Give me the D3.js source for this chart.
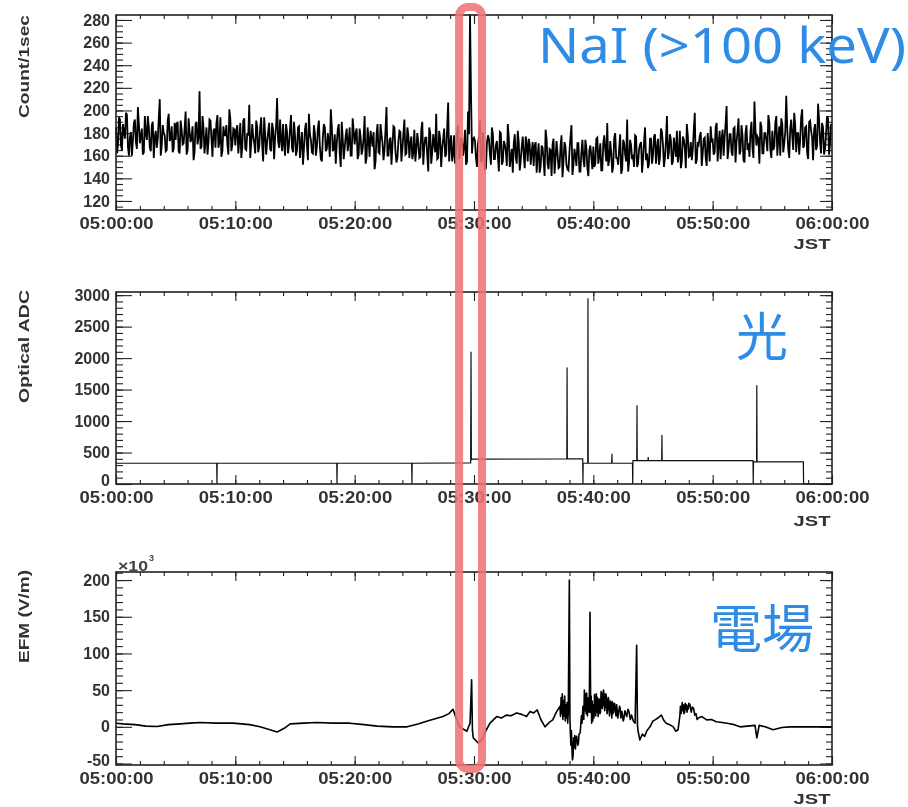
<!DOCTYPE html>
<html><head><meta charset="utf-8">
<script src="https://cdn.jsdelivr.net/npm/d3@7"></script>
<style>body{margin:0;background:#fff}</style>
</head><body><svg id="chart" width="908" height="807"></svg>
<script>
// ---------------- DATA ----------------
const timeTickMinutes = [0, 10, 20, 30, 40, 50, 60];
const timeTickLabels = ["05:00:00","05:10:00","05:20:00","05:30:00","05:40:00","05:50:00","06:00:00"];
const naiTicks = [120, 140, 160, 180, 200, 220, 240, 260, 280];
const opticalTicks = [0, 500, 1000, 1500, 2000, 2500, 3000];
const efmTicks = [-50, 0, 50, 100, 150, 200];

// NaI counts per second, read every 10 s (at hh:mm:s0) from 05:00:00
const naiCountsA = [
185,170,192,165,181,198,168,176,160,189,172,203,171,184,163,179,195,167,187,158,182,175,210,169,180,164,191,173,186,166,
174,190,162,183,171,199,165,181,176,156,188,170,217,168,185,173,161,192,175,182,167,196,172,159,186,178,170,201,164,184,
169,187,174,158,191,166,180,205,171,177,162,185,168,194,155,179,172,189,164,183,176,211,167,174,188,160,181,170,196,163,
178,165,186,171,152,183,169,197,174,162,180,168,191,157,176,185,166,173,201,164,179,171,188,150,175,167,184,172,160,193,
170,184,161,177,166,195,158,174,182,168,148,179,163,188,171,165,203,160,176,169,185,154,173,181,166,192,162,178,171,157,
183,165,172,159,190,168,176,146,180,163,171,197,158,175,166,184,161,207,170,155,178,164,187,160,173,168,152,199,285,162,
176,158,170,191,155,167,149,178,162,185,157,169,160,181,152,173,164,188,150,166,171,159,182,147,168,161,177,155,170,163,
151,172,160,145,169,156,183,153,166,142,175,158,162,150,178,155,168,148,164,187,152,160,171,146,163,157,174,149,165,159,
168,153,176,160,147,171,165,189,156,163,151,180,158,167,144,174,161,192,155,169,159,178,150,166,172,157,185,162,153,175,
160,179,166,152,184,170,158,195,163,174,155,168,182,161,149,177,167,188,159,172,165,198,156,170,181,162,176,151,169,186,
174,163,189,170,157,183,176,204,166,179,160,185,172,193,164,178,154,187,171,181,167,208,169,175,190,162,180,173,196,165,
182,168,195,175,160,188,171,213,166,184,178,198,163,180,174,201,169,186,157,191,176,183,165,206,172,189,161,179,193,170
];
// NaI counts per second, read every 10 s (at hh:mm:s5) from 05:00:05
const naiCountsB = [
162,194,169,188,175,196,160,181,173,192,166,188,177,161,195,174,185,164,190,176,167,193,160,187,178,165,197,175,163,189,
188,164,191,170,184,161,193,172,186,163,190,176,166,195,162,185,172,191,159,184,189,167,194,164,178,187,161,192,170,183,
183,162,189,168,193,165,178,158,188,171,191,163,185,169,194,161,181,166,189,157,186,173,192,164,170,188,162,184,167,190,
160,185,158,181,166,189,156,179,163,187,160,184,168,155,188,164,180,159,186,166,153,183,162,190,157,178,164,185,160,182,
180,157,184,161,176,153,185,159,175,181,155,188,162,179,156,183,160,174,152,186,164,158,182,155,179,161,185,158,177,163,
155,180,158,183,152,176,160,185,153,179,163,157,182,150,175,159,184,155,178,161,153,181,157,176,160,183,155,179,215,175,
173,150,177,155,181,147,171,175,152,179,157,173,146,180,155,170,151,176,158,145,179,153,172,156,177,149,170,175,152,172,
169,145,171,150,167,142,175,148,165,170,144,173,149,168,141,172,152,147,176,143,166,151,171,146,174,150,167,142,169,148,
150,175,153,171,147,178,155,151,173,145,176,158,152,179,148,171,155,146,174,157,150,177,153,170,145,172,156,149,175,153,
177,153,175,158,181,150,173,157,179,152,176,159,154,182,155,174,149,178,160,156,183,153,172,177,151,175,158,180,155,173,
161,185,155,182,175,160,188,157,179,163,184,154,181,161,187,156,180,165,159,190,158,183,177,153,186,162,180,164,189,158,
165,189,160,186,193,163,181,184,158,192,165,187,180,161,194,167,185,163,190,182,156,188,169,192,162,185,166,195,161,188
];
const naiStepMinutes = 10 / 60;

// Optical ADC: [minutes after 05:00, ADC]
const opticalSamples = [
  [0,330],[8.44,330],[8.46,0],[8.48,330],[18.5,330],[18.52,0],[18.54,330],[24.78,330],[24.8,0],[24.82,330],
  [29.72,335],[29.75,2100],[29.78,380],[29.8,395],[37.78,400],[37.8,1850],[37.82,400],[39.11,400],[39.13,0],[39.15,330],
  [39.53,330],[39.55,2950],[39.57,330],[41.54,330],[41.56,480],[41.58,330],[43.28,330],[43.3,0],[43.32,370],
  [43.64,370],[43.66,1250],[43.68,370],[44.58,370],[44.6,430],[44.62,370],[45.73,370],[45.75,780],[45.77,370],
  [53.38,370],[53.4,0],[53.42,350],[53.68,350],[53.7,1570],[53.72,350],[57.6,350],[57.62,0],[60,0]
];

// EFM (x10^3 V/m): [minutes after 05:00, value]
const efmSamples = [
  [0,5],[0.6,4],[1.6,3],[2.5,1],[3.44,0.5],[4.4,3],[5.36,4],[6.2,5],[7.04,6],[8.4,5],[9.8,5],[10.5,4],[11.2,3],
  [12.07,0],[12.9,-4],[13.5,-7],[14.1,-2],[14.6,4],[15.7,5],[16.8,6],[18.2,5],[19.6,5],[20.8,3],[21.9,1],[23.2,0],
  [24.4,0],[25.3,4],[26.1,8],[27.4,14],[27.9,18],[28.24,24],[28.5,12],[28.8,0],[29.4,-6],[29.67,5],[29.8,64],
  [29.87,-5],[29.94,-15],[30.36,-22],[30.64,-18],[31.0,-5],[31.34,5],[31.9,14],[32.3,12],[32.7,16],[33.1,15],
  [33.57,19],[34.0,17],[34.4,14],[34.7,21],[35.0,19],[35.3,23],[35.6,10],[35.95,0],[36.3,6],[36.6,9.5],[36.9,20],
  [37.2,28],[37.25,14],[37.3,40],[37.35,18],[37.4,45],[37.45,10],[37.5,35],[37.55,15],[37.6,42],[37.65,8],[37.7,30],
  [37.75,12],[37.8,33],[37.85,5],[37.9,19],[37.99,200],[38.04,10],[38.08,-10],[38.12,-25],[38.16,-5],[38.19,-18],
  [38.22,-35],[38.25,-45],[38.3,-40],[38.35,-15],[38.4,-28],[38.45,-12],[38.5,-30],[38.55,-18],[38.6,-13],[38.7,-25],
  [38.75,-22],[38.8,-10],[38.9,-8],[39.0,15],[39.05,5],[39.13,28],[39.2,10],[39.25,50],[39.3,22],[39.35,45],[39.4,18],
  [39.44,46],[39.5,15],[39.55,25],[39.6,40],[39.66,20],[39.72,156],[39.78,20],[39.82,42],[39.86,5],[39.9,35],[39.95,8],
  [40.0,30],[40.05,12],[40.1,44],[40.13,37],[40.2,15],[40.25,45],[40.3,20],[40.35,40],[40.4,14],[40.45,35],[40.5,38],
  [40.55,18],[40.6,20],[40.65,48],[40.7,46],[40.75,25],[40.8,30],[40.85,50],[40.9,44],[40.95,22],[41.0,28],[41.05,45],
  [41.1,39],[41.15,18],[41.2,24],[41.25,40],[41.3,36],[41.35,15],[41.4,22],[41.45,35],[41.5,28],[41.55,12],[41.6,34],
  [41.65,18],[41.7,20],[41.75,32],[41.8,31],[41.9,15],[41.96,30],[42.05,12],[42.1,18],[42.2,28],[42.25,26],[42.3,12],
  [42.4,21],[42.5,8],[42.55,10],[42.65,22],[42.7,19],[42.8,14],[42.9,24],[43.0,20],[43.1,10],[43.2,16],[43.35,8],
  [43.5,5],[43.63,111],[43.7,2],[43.74,-5],[43.9,-18],[44.1,-10],[44.3,-13],[44.5,-5],[44.75,0],[45.0,8],[45.17,9.5],
  [45.4,12],[45.7,16],[45.9,9],[46.1,5],[46.4,3],[46.7,0],[46.9,-6],[47.1,-4],[47.25,15],[47.3,28],[47.35,18],
  [47.4,23],[47.45,33],[47.5,22],[47.55,30],[47.6,18],[47.65,20],[47.7,32],[47.75,24],[47.8,30],[47.85,20],[47.9,28],
  [47.95,24],[48.0,32],[48.1,30],[48.2,20],[48.3,27],[48.4,25],[48.5,16],[48.6,18],[48.7,10],[48.8,12],[49.1,14],
  [49.5,9.5],[49.9,10],[50.3,7],[50.8,6],[51.2,5],[51.8,3],[52.3,0],[52.9,1],[53.55,2],[53.7,-15],[53.9,2],[54.4,0],
  [55.06,-4],[55.8,-1],[56.5,0],[57.2,0],[57.9,0],[59,0],[60,0]
];

const highlightMinutes = [28.75, 30.67];
const panelTitles = ["Count/1sec", "Optical ADC", "EFM (V/m)"];
const panelLabels = ["NaI (>100 keV)", "光", "電場"];

// ---------------- LAYOUT ----------------
const svg = d3.select("#chart");
const defs = svg.append("defs");
defs.append("filter").attr("id", "soft").append("feGaussianBlur").attr("stdDeviation", 0.5);
const root = svg.append("g").attr("filter", "url(#soft)");

const X0 = 116, X1 = 832;
const x = d3.scaleLinear().domain([0, 60]).range([X0, X1]);

const panels = [
  {top: 15, bottom: 210, domain: [112, 284.4], ticks: naiTicks, minorStep: 5, titleLen: 103, jstY: 243},
  {top: 292, bottom: 484, domain: [0, 3050], ticks: opticalTicks, minorStep: 100, titleLen: 113, jstY: 520},
  {top: 572, bottom: 765, domain: [-52, 211], ticks: efmTicks, minorStep: 10, titleLen: 93, jstY: 798}
];
const ink = "#222";
const tickFont = "'Liberation Sans', Arial, sans-serif";

function styleAxis(g) {
  g.select(".domain").remove();
  g.selectAll(".tick line").attr("stroke", ink).attr("stroke-width", 1.1);
  g.selectAll("text").attr("font-family", tickFont).attr("font-weight", "bold").attr("fill", "#333");
}

panels.forEach((p, i) => {
  const y = d3.scaleLinear().domain(p.domain).range([p.bottom, p.top]);
  p.y = y;
  const g = root.append("g");
  const minor = d3.range(Math.ceil(p.domain[0] / p.minorStep) * p.minorStep, p.domain[1], p.minorStep);
  const timeMinor = d3.range(0, 61, 2);

  g.append("g").attr("transform", `translate(${X0},0)`)
    .call(d3.axisLeft(y).tickValues(minor).tickSize(-7).tickFormat("")).call(styleAxis);
  g.append("g").attr("transform", `translate(${X0},0)`)
    .call(d3.axisLeft(y).tickValues(p.ticks).tickSizeInner(-16).tickSizeOuter(0).tickPadding(6)
      .tickFormat(d => String(d))).call(styleAxis)
    .selectAll("text").attr("font-size", 16)
    .attr("dy", d => (Math.abs(y(d) - p.bottom) < 3 ? "0.12em" : "0.32em"));
  g.append("g").attr("transform", `translate(${X1},0)`)
    .call(d3.axisRight(y).tickValues(minor).tickSize(-6).tickFormat("")).call(styleAxis);
  g.append("g").attr("transform", `translate(${X1},0)`)
    .call(d3.axisRight(y).tickValues(p.ticks).tickSize(-12).tickFormat("")).call(styleAxis);
  g.append("g").attr("transform", `translate(0,${p.bottom})`)
    .call(d3.axisBottom(x).tickValues(timeMinor).tickSize(-4).tickFormat("")).call(styleAxis);
  g.append("g").attr("transform", `translate(0,${p.bottom})`)
    .call(d3.axisBottom(x).tickValues(timeTickMinutes).tickSizeInner(-9).tickSizeOuter(0).tickPadding(8)
      .tickFormat((d, k) => timeTickLabels[k])).call(styleAxis)
    .selectAll("text").attr("font-size", 16).attr("textLength", 74).attr("lengthAdjust", "spacingAndGlyphs");
  g.append("g").attr("transform", `translate(0,${p.top})`)
    .call(d3.axisTop(x).tickValues(timeMinor).tickSize(-4).tickFormat("")).call(styleAxis);
  g.append("g").attr("transform", `translate(0,${p.top})`)
    .call(d3.axisTop(x).tickValues(timeTickMinutes).tickSize(-9).tickFormat("")).call(styleAxis);

  g.append("text").attr("x", 812).attr("y", p.jstY).attr("text-anchor", "middle")
    .attr("dominant-baseline", "central").attr("font-family", tickFont).attr("font-weight", "bold")
    .attr("font-size", 15).attr("fill", "#333").attr("textLength", 37).attr("lengthAdjust", "spacingAndGlyphs")
    .text("JST");

  const cy = (p.top + p.top + p.titleLen) / 2 + (i === 0 ? 0 : -2);
  g.append("text").attr("transform", `translate(23,${cy}) rotate(-90)`)
    .attr("text-anchor", "middle").attr("dominant-baseline", "central")
    .attr("font-family", tickFont).attr("font-weight", "bold").attr("font-size", 15).attr("fill", "#333")
    .attr("textLength", p.titleLen).attr("lengthAdjust", "spacingAndGlyphs")
    .text(panelTitles[i]);
});

// ---- data lines ----
const pN = panels[0];
const naiSeries = [];
naiCountsA.forEach((v, k) => {
  naiSeries.push([k * naiStepMinutes, v]);
  naiSeries.push([(k + 0.5) * naiStepMinutes, naiCountsB[k]]);
});
root.append("path")
  .datum(naiSeries)
  .attr("fill", "none").attr("stroke", "#000").attr("stroke-width", 1.8)
  .attr("d", d3.line().x(d => x(d[0])).y(d => pN.y(d[1])));

const pO = panels[1];
root.append("path")
  .datum(opticalSamples)
  .attr("fill", "none").attr("stroke", "#111").attr("stroke-width", 1.2)
  .attr("d", d3.line().x(d => x(d[0])).y(d => pO.y(d[1])));

const pE = panels[2];
root.append("path")
  .datum(efmSamples)
  .attr("fill", "none").attr("stroke", "#000").attr("stroke-width", 1.6).attr("stroke-linejoin", "round")
  .attr("d", d3.line().x(d => x(d[0])).y(d => pE.y(d[1])));

// ---- frames ----
panels.forEach(p => {
  root.append("rect").attr("x", X0).attr("y", p.top).attr("width", X1 - X0).attr("height", p.bottom - p.top)
    .attr("fill", "none").attr("stroke", ink).attr("stroke-width", 1.6);
});

// x10^3 label
root.append("text").attr("x", 118).attr("y", 571).attr("font-family", tickFont).attr("font-weight", "bold")
  .attr("font-size", 14).attr("fill", "#444").attr("textLength", 30).attr("lengthAdjust", "spacingAndGlyphs").text("×10");
root.append("text").attr("x", 149).attr("y", 561).attr("font-family", tickFont).attr("font-weight", "bold")
  .attr("font-size", 9).attr("fill", "#444").text("3");

// ---- highlight ----
root.append("rect")
  .attr("x", x(highlightMinutes[0])).attr("width", x(highlightMinutes[1]) - x(highlightMinutes[0]))
  .attr("y", 7).attr("height", 762).attr("rx", 9)
  .attr("fill", "none").attr("stroke", "#ef7272").attr("stroke-opacity", 0.88).attr("stroke-width", 8);

// ---- blue labels ----
const blue = "#2f8be6";
root.append("text").attr("x", 538).attr("y", 63).attr("font-family", "'Noto Sans', 'Open Sans', sans-serif")
  .attr("font-size", 49).attr("fill", blue).attr("textLength", 368).attr("lengthAdjust", "spacingAndGlyphs")
  .text(panelLabels[0]);
root.append("text").attr("x", 762).attr("y", 333).attr("text-anchor", "middle").attr("dominant-baseline", "central")
  .attr("font-family", "'Noto Sans CJK JP', sans-serif").attr("font-size", 52).attr("fill", blue)
  .text(panelLabels[1]);
root.append("text").attr("x", 762).attr("y", 625).attr("text-anchor", "middle").attr("dominant-baseline", "central")
  .attr("font-family", "'Noto Sans CJK JP', sans-serif").attr("font-size", 52).attr("fill", blue)
  .text(panelLabels[2]);
</script>
</body></html>
